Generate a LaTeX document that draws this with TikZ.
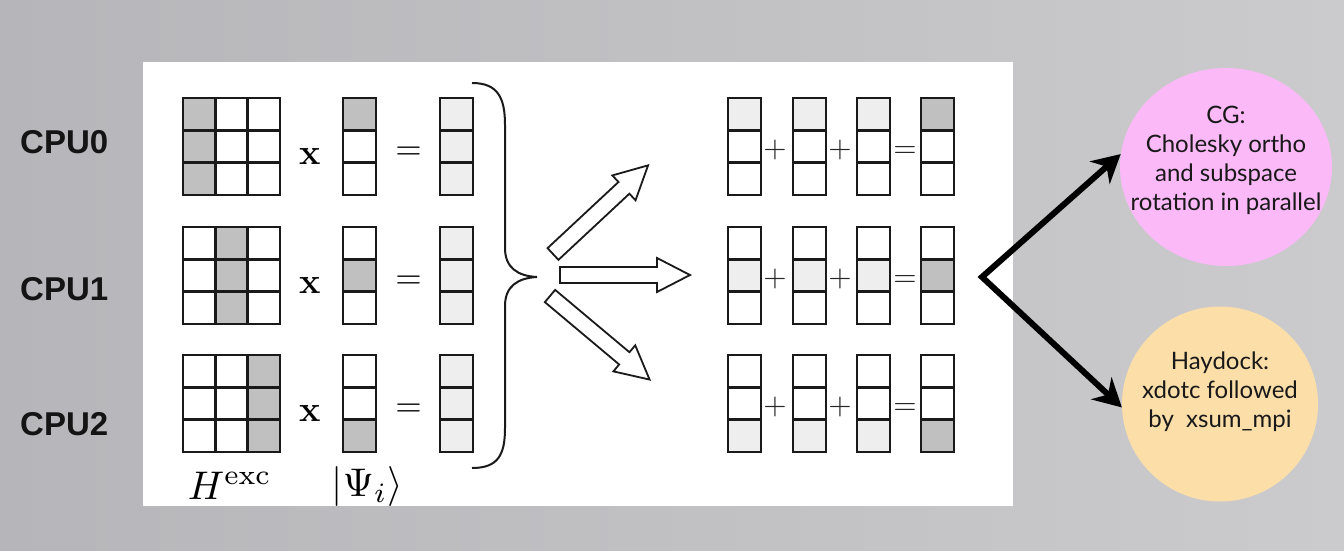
\documentclass[tikz,border=0pt]{standalone}
\usepackage{fontspec}
\newfontfamily\cpufont{Liberation Sans}
\newfontfamily\circfont{Lato}
\usetikzlibrary{shapes.geometric,arrows.meta}
\definecolor{bgL}{HTML}{B6B6BA}
\definecolor{bgM}{HTML}{D2D2D4}
\definecolor{bgR}{HTML}{CBCBCD}
\definecolor{darkcell}{HTML}{C0C0C0}
\definecolor{lightcell}{HTML}{EEEEEE}
\definecolor{linec}{HTML}{1A1A1A}
\definecolor{pinkc}{HTML}{FBB9F7}
\definecolor{orangec}{HTML}{FCDEA9}
\tikzset{
  cell/.style={draw=linec,line width=2.4pt},
  blockarrow/.style={draw=linec,fill=white,line width=1.8pt,line join=miter},
  cpulabel/.style={font=\cpufont\bfseries\fontsize{33}{36}\selectfont,anchor=base west,inner sep=0pt,text=black!92},
  timessign/.style={font=\fontsize{36}{40}\selectfont\bfseries,anchor=base,inner sep=0pt},
  eqsign/.style={font=\normalsize,scale=3.4,anchor=base,inner sep=0pt},
  smallsign/.style={font=\normalsize,scale=3,anchor=base,inner sep=0pt,text=black!85},
  mathlabel/.style={font=\normalsize,scale=4,anchor=base west,inner sep=0pt},
  bubble/.style={ellipse,inner sep=0pt},
  bubbletext/.style={font=\circfont\fontsize{24}{29}\selectfont,align=center,inner sep=0pt,text=black!90},
  bigarrow/.style={draw=black,line width=6pt,line join=miter,{Stealth[length=28pt,width=30pt]}-{Stealth[length=28pt,width=30pt]}}
}
\begin{document}
\begin{tikzpicture}[x=1pt,y=-1pt]
\useasboundingbox (0,0) rectangle (1344,550);
\shade[left color=bgL,middle color=bgM,right color=bgR] (0,0) rectangle (1344,550);
% white panel
\fill[white] (143,62) rectangle (1013,506);
% CPU labels
\node[cpulabel] (cpu0) at (20,153) {CPU0};
\node[cpulabel] (cpu1) at (20,300) {CPU1};
\node[cpulabel] (cpu2) at (20,435) {CPU2};
% left products
\foreach \r/\ty in {0/98,1/227,2/355}{
  \foreach \c in {0,1,2}{
    \foreach \k in {0,1,2}{
      \ifnum\c=\r \def\f{darkcell}\else\def\f{white}\fi
      \draw[cell,fill=\f] ({183+\c*32.33},{\ty+\k*32.33}) rectangle +(32.33,32.33);
    }
  }
  \foreach \k in {0,1,2}{
    \ifnum\k=\r \def\f{darkcell}\else\def\f{white}\fi
    \draw[cell,fill=\f] (343,{\ty+\k*32.33}) rectangle +(33,32.33);
    \draw[cell,fill=lightcell] (440,{\ty+\k*32.33}) rectangle +(33,32.33);
  }
  \node[timessign] (x\r) at (310,{\ty+48.5+17.5}) {x};
  \node[eqsign] (eq\r) at (408.5,{\ty+48.5+13}) {$=$};
  % right sums
  \foreach \cx in {728,793,857}{
    \foreach \k in {0,1,2}{
      \ifnum\k=\r \def\f{lightcell}\else\def\f{white}\fi
      \draw[cell,fill=\f] (\cx,{\ty+\k*32.33}) rectangle +(33,32.33);
    }
  }
  \foreach \k in {0,1,2}{
    \ifnum\k=\r \def\f{darkcell}\else\def\f{white}\fi
    \draw[cell,fill=\f] (921,{\ty+\k*32.33}) rectangle +(33,32.33);
  }
  \node[smallsign] (pa\r) at (775,{\ty+48.5+11}) {$+$};
  \node[smallsign] (pb\r) at (840,{\ty+48.5+11}) {$+$};
  \node[smallsign] (pe\r) at (905,{\ty+48.5+11}) {$=$};
}
% labels
\node[mathlabel] (hlab) at (187,499) {$H^{\mathrm{exc}}$};
\node[mathlabel] (psilab) at (331,496) {$|\Psi_i\rangle$};
% brace
\draw[linec,line width=2pt] (472,83) .. controls (498,83) and (505,98) .. (505,125)
  -- (505,248) .. controls (505,268) and (518,276) .. (537,277)
  .. controls (518,278) and (505,286) .. (505,306)
  -- (505,428) .. controls (505,455) and (498,468) .. (472,468);
% hollow block arrows
\foreach \sx/\sy/\ang in {553/254/43, 560/275/0, 550/296/-40}{
  \begin{scope}[shift={(\sx,\sy)},rotate=\ang]
    \draw[blockarrow] (0,-8) -- (97,-8) -- (97,-17) -- (130,0) -- (97,17) -- (97,8) -- (0,8) -- cycle;
  \end{scope}
}
% bubbles
\node[bubble,fill=pinkc,minimum width=212pt,minimum height=198pt] (cg) at (1226,167) {};
\node[bubbletext] (cgtext) at (1226,160) {CG:\\Cholesky ortho\\and subspace\\rotation in parallel};
\node[bubble,fill=orangec,minimum width=196pt,minimum height=195pt] (hd) at (1220,404) {};
\node[bubbletext] (hdtext) at (1220,392) {Haydock:\\xdotc followed\\by \ xsum\_mpi};
% black arrows
\coordinate (v) at (982,277);
\draw[bigarrow] (cg.173) -- (v) -- (hd.182);
\end{tikzpicture}
\end{document}
